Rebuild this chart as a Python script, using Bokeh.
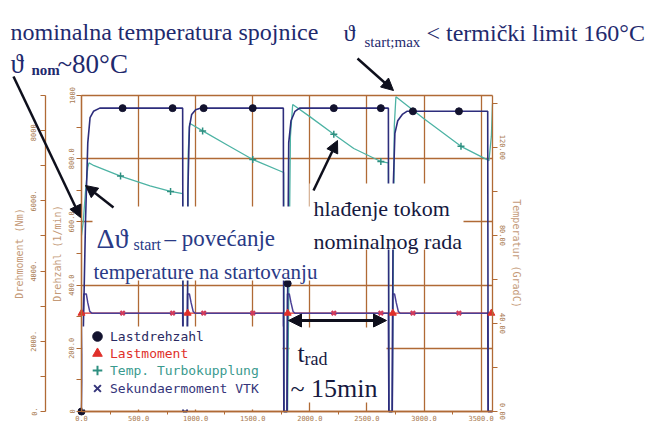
from bokeh.plotting import figure
from bokeh.models import (LinearAxis, Range1d, FixedTicker, Legend, LegendItem,
                          Label, Arrow, NormalHead, BoxAnnotation)
from bokeh.embed import file_html
from bokeh.resources import INLINE

# ---------------- data ----------------
# time axis (s)
x_ticks = [0, 500, 1000, 1500, 2000, 2500, 3000, 3500]
x_minor = [250, 750, 1250, 1750, 2250, 2750, 3250]
x_labels = ["0.0", "500.0", "1000.0", "1500.0", "2000.0", "2500.0", "3000.0", "3500.0"]

# Drehzahl axis (1/min)
n_ticks = [0, 200, 400, 600, 800, 1000]
n_minor = [100, 300, 500, 700, 900]
n_labels = ["0", "200.0", "400.0", "600.0", "800.0", "1000"]

# Drehmoment axis (Nm)
m_ticks = [0, 2000, 4000, 6000, 8000]
m_minor = [1000, 3000, 5000, 7000, 9000]
m_labels = ["0.", "2000.", "4000.", "6000.", "8000."]

# Temperatur axis (GradC)
t_ticks = [0, 40, 80, 120]
t_minor = [20, 60, 100, 140]
t_labels = ["0.00", "40.00", "80.00", "120.00"]

# Lastdrehzahl (1/min)
speed_t = [0, 10, 35, 55, 75, 105, 160,
           886, 890, 925, 932, 945, 965, 1000, 1040,
           1768, 1772, 1800, 1806, 1815, 1835, 1870, 1910,
           2688, 2692, 2722, 2730, 2745, 2770, 2810, 2850,
           3558, 3562, 3600]
speed_v = [0, 150, 600, 850, 930, 950, 960,
           960, 0, 0, 700, 900, 940, 955, 960,
           960, 0, 0, 405, 850, 920, 950, 960,
           960, 0, 0, 700, 880, 920, 940, 950,
           950, 0, 0]
speed_mk_t = [0, 360, 798, 1070, 1500, 1806, 2210, 2622, 2903, 3306]
speed_mk_v = [0, 960, 960, 960, 960, 405, 960, 960, 950, 950]

# Temp. Turbokupplung (GradC)
temp_t = [0, 15, 35, 55, 65, 100, 342, 600, 780, 886,
          890, 925, 935, 947, 1061, 1280, 1500, 1771,
          1775, 1805, 1830, 1850, 2000, 2210, 2385, 2622, 2688,
          2692, 2722, 2740, 2754, 3000, 3324, 3569, 3590, 3600]
temp_v = [80, 86, 100, 111, 113, 112, 107, 102.5, 100, 99,
          0, 0, 118, 131, 127.5, 121, 114.5, 108.6,
          0, 0, 125, 139.5, 134, 126, 119.5, 113.6, 113,
          0, 0, 130, 143, 133, 120.5, 114, 125, 140]
temp_mk_t = [342, 780, 1061, 1500, 2210, 2622, 3324]
temp_mk_v = [107, 100, 127.5, 114.5, 126, 113.6, 120.5]

# Lastmoment (Nm)
last_t = [0, 930, 1806, 2727, 3590]
last_v = [2800, 2800, 2800, 2800, 2800]

# Sekundaermoment VTK (Nm)
sek_t = [0, 15, 20, 42, 55, 72, 90,
         886, 890, 925, 929, 945, 960, 978, 995,
         1768, 1772, 1800, 1804, 1820, 1835, 1853, 1870,
         2688, 2692, 2722, 2726, 2742, 2757, 2775, 2792,
         3558, 3562, 3600]
sek_v = [2800, 2800, 3350, 3350, 3100, 2850, 2800,
         2800, 0, 0, 3350, 3350, 3100, 2850, 2800,
         2800, 0, 0, 3350, 3350, 3100, 2850, 2800,
         2800, 0, 0, 3350, 3350, 3100, 2850, 2800,
         2800, 0, 0]
sek_mk_t = [360, 798, 1070, 1500, 2210, 2622, 2903, 3306]
sek_mk_v = [2800, 2800, 2800, 2800, 2800, 2800, 2800, 2800]

# ---------------- styling / layout ----------------
BROWN = "#b06a35"
TICK = "#a8794f"
TITLE = "#c49a78"
NAVY_T = "#1f2a6e"
MID_T = "#2a3a86"
DARK_T = "#16193f"
ARROW_C = "#0e0f1c"
SERIF = "Liberation Serif"
MONO = "DejaVu Sans Mono"

W, H = 648, 424
# plot area (inside the canvas-wide frame)
FL, FR, FT, FB = 81, 492, 95, 411
XMAX, NMAX, MMAX, TMAX = 3600, 1000, 9000, 143.6
SX = XMAX / (FR - FL)
SY = NMAX / (FB - FT)
Y_LO, Y_HI = -(H - FB) * SY, NMAX + FT * SY


def dx(px):
    return (px - FL) * SX


def dy(py):
    return (FB - py) * SY


p = figure(width=W, height=H,
           x_range=Range1d(-FL * SX, XMAX + (W - FR) * SX),
           y_range=Range1d(Y_LO, Y_HI),
           output_backend="svg", toolbar_location=None,
           min_border=0, min_border_left=0, min_border_right=0,
           min_border_top=0, min_border_bottom=0)
p.background_fill_color = "white"
p.border_fill_color = "white"
p.outline_line_color = None
p.extra_y_ranges = {
    "torque": Range1d(Y_LO * MMAX / NMAX, Y_HI * MMAX / NMAX),
    "temp": Range1d(Y_LO * TMAX / NMAX, Y_HI * TMAX / NMAX),
}

p.xgrid.ticker = FixedTicker(ticks=x_ticks)
p.ygrid.ticker = FixedTicker(ticks=n_ticks)
p.xgrid[0].cross_bounds = (0, NMAX)
p.ygrid[0].cross_bounds = (0, XMAX)
for g in (p.xgrid[0], p.ygrid[0]):
    g.grid_line_color = BROWN
    g.grid_line_width = 1.3


def style_axis(ax, vertical=True):
    ax.axis_line_color = BROWN
    ax.axis_line_width = 1.3
    ax.major_tick_line_color = BROWN
    ax.minor_tick_line_color = BROWN
    ax.major_label_text_color = TICK
    ax.major_label_text_font = MONO
    ax.major_label_text_font_size = "7px"
    ax.axis_label_text_color = TITLE
    ax.axis_label_text_font = MONO
    ax.axis_label_text_font_size = "10px"
    ax.axis_label_text_font_style = "normal"
    ax.major_label_standoff = 2
    if vertical:
        ax.major_label_orientation = "vertical"
        ax.major_tick_in = 0
        ax.major_tick_out = 5
        ax.minor_tick_in = 0
        ax.minor_tick_out = 5


ax_x = p.xaxis[0]
style_axis(ax_x, vertical=False)
ax_x.fixed_location = 0
ax_x.bounds = (0, XMAX)
ax_x.ticker = FixedTicker(ticks=x_ticks, minor_ticks=x_minor)
ax_x.major_label_overrides = dict(zip(x_ticks, x_labels))
ax_x.major_tick_in = 5
ax_x.major_tick_out = 0
ax_x.minor_tick_in = 0
ax_x.minor_tick_out = 3
ax_x.major_label_standoff = 0

ax_n = p.yaxis[0]
style_axis(ax_n)
ax_n.fixed_location = 0
ax_n.bounds = (0, NMAX)
ax_n.ticker = FixedTicker(ticks=n_ticks, minor_ticks=n_minor)
ax_n.major_label_overrides = dict(zip(n_ticks, n_labels))
ax_n.axis_label = "Drehzahl (1/min)"
ax_n.axis_label_standoff = 3

ax_m = LinearAxis(y_range_name="torque", axis_label="Drehmoment (Nm)")
style_axis(ax_m)
ax_m.fixed_location = dx(45)
ax_m.bounds = (0, MMAX)
ax_m.ticker = FixedTicker(ticks=m_ticks, minor_ticks=m_minor)
ax_m.major_label_overrides = dict(zip(m_ticks, m_labels))
ax_m.major_label_standoff = 4
ax_m.axis_label_standoff = 3
p.add_layout(ax_m, "left")

ax_t = LinearAxis(y_range_name="temp", axis_label="Temperatur (GradC)")
style_axis(ax_t)
ax_t.fixed_location = XMAX
ax_t.bounds = (0, TMAX)
ax_t.ticker = FixedTicker(ticks=t_ticks, minor_ticks=t_minor)
ax_t.major_label_overrides = dict(zip(t_ticks, t_labels))
ax_t.axis_label_standoff = 2
p.add_layout(ax_t, "right")

# ---------------- series ----------------
C_SPEED = "#2d2d7c"
C_TEMP = "#4db3a4"
C_LAST = "#e0302a"
C_SEK = "#4a3f95"

p.line(temp_t, temp_v, y_range_name="temp", line_color=C_TEMP, line_width=1.3)
p.line(last_t, last_v, y_range_name="torque", line_color=C_LAST, line_width=1.2)
p.line(sek_t, sek_v, y_range_name="torque", line_color=C_SEK, line_width=1.5)
p.line(speed_t, speed_v, line_color=C_SPEED, line_width=1.6)

p.scatter(temp_mk_t, temp_mk_v, y_range_name="temp", marker="cross", size=7,
          line_color="#2e8f80", line_width=1.5)
p.scatter(sek_mk_t, sek_mk_v, y_range_name="torque", marker="x", size=6,
          line_color="#d23c5c", line_width=2.2)
p.scatter(last_t, last_v, y_range_name="torque", marker="triangle", size=7,
          fill_color=C_LAST, line_color=C_LAST)
p.scatter(speed_mk_t, speed_mk_v, marker="circle", size=7,
          fill_color="#12122e", line_color="#12122e")

# ---------------- white areas behind the notes and the legend ----------------
for (l, r, t, b) in [(92, 320, 206, 280), (309, 463, 183, 249),
                     (289, 386, 327, 402), (82, 282, 326, 409)]:
    p.add_layout(BoxAnnotation(left=dx(l), right=dx(r), top=dy(t), bottom=dy(b),
                               fill_color="white", fill_alpha=1.0, line_color=None))

# ---------------- legend (one entry per colour) ----------------
NAN = float("nan")
leg_specs = [
    ("Lastdrehzahl", dict(marker="circle", fill_color="#12122e", line_color="#12122e"), "#2a2a62", 336),
    ("Lastmoment", dict(marker="triangle", fill_color=C_LAST, line_color=C_LAST), "#e0302a", 353),
    ("Temp. Turbokupplung", dict(marker="cross", line_color="#2e8f80", line_width=2), "#3a9a8e", 370),
    ("Sekundaermoment VTK", dict(marker="x", line_color="#35357a", line_width=2), "#35357a", 388),
]
for label, mk, tcol, cy in leg_specs:
    r = p.scatter(x=[NAN], y=[NAN], **mk)
    lg = Legend(items=[LegendItem(label=label, renderers=[r])],
                location=(97 - 12, (H - cy) - 12),
                padding=0, margin=0, spacing=0, glyph_width=24, glyph_height=24,
                label_standoff=1, label_text_font=MONO, label_text_font_size="13px",
                label_text_color=tcol, border_line_color=None, background_fill_alpha=0)
    p.add_layout(lg)

# ---------------- notes ----------------


def note(txt, px, py, size, color=NAVY_T, style="normal"):
    p.add_layout(Label(x=dx(px), y=dy(py), text=txt, text_font=SERIF,
                       text_font_size=f"{size}px", text_color=color,
                       text_font_style=style, text_baseline="alphabetic",
                       text_align="left"))


note("nominalna temperatura spojnice", 10, 31, 24)
note("\u03d1", 10, 63, 27)
note("nom", 31, 69, 15, style="bold")
note("~80\u00b0C", 57, 63, 27)

note("\u03d1", 343, 32, 24)
note("start;max", 364, 41, 15)
note("< termi\u010dki limit 160\u00b0C", 426, 32, 24)

note("\u0394\u03d1", 96, 238, 28, color=MID_T)
note("start", 133, 244, 16, color=MID_T)
note("\u2013 pove\u0107anje", 164, 238, 23, color=MID_T)
note("temperature na startovanju", 93, 271, 21, color=MID_T)

note("hla\u0111enje tokom", 313, 208, 22, color=DARK_T)
note("nominalnog rada", 313, 241, 22, color=DARK_T)

note("t", 297, 353, 26, color=DARK_T)
note("rad", 304, 358, 18, color=DARK_T)
note("~ 15min", 290, 388, 26, color=DARK_T)

# ---------------- arrows ----------------


def arrow(x0, y0, x1, y1, both=False, width=2.5, size=12):
    head = dict(size=size, fill_color=ARROW_C, line_color=ARROW_C)
    kw = dict(x_start=dx(x0), y_start=dy(y0), x_end=dx(x1), y_end=dy(y1),
              end=NormalHead(**head), line_color=ARROW_C, line_width=width)
    if both:
        kw["start"] = NormalHead(**head)
    p.add_layout(Arrow(**kw))


arrow(13, 76, 80, 217)
arrow(357, 58, 393, 90)
arrow(113, 207, 85, 185)
arrow(313, 190, 337, 140)
arrow(288, 320, 386, 320, both=True, width=3, size=13)

open("out.html", "w").write(file_html(p, INLINE))
